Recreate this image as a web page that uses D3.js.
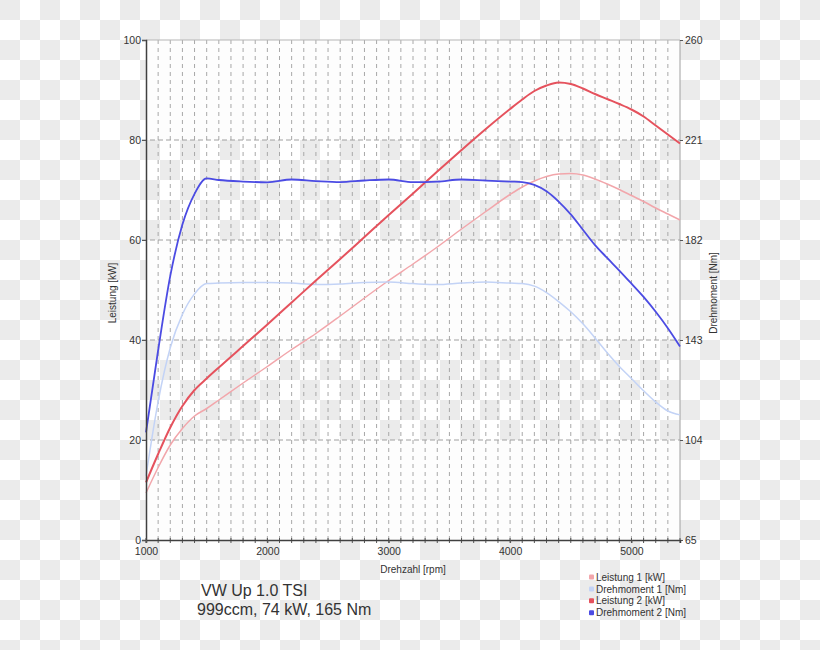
<!DOCTYPE html>
<html>
<head>
<meta charset="utf-8">
<script src="https://cdn.jsdelivr.net/npm/d3@7"></script>
<style>
  html, body { margin: 0; padding: 0; background: #fff; }
  svg { display: block; font-family: "Liberation Sans", Arial, sans-serif; }
</style>
</head>
<body>
<svg id="chart" width="820" height="650"></svg>
<script>
// ---- data ----
const rpm = [1000, 1100, 1200, 1300, 1400, 1500, 1600, 1800, 2000, 2200, 2400, 2600, 2800, 3000, 3200, 3400, 3600, 3800, 4000, 4100, 4200, 4300, 4400, 4500, 4600, 4700, 4800, 4900, 5000, 5100, 5200, 5300, 5400];
const leistung1 = [9.4, 14.5, 19.0, 22.3, 24.8, 26.3, 28.0, 31.4, 34.7, 38.1, 41.3, 44.8, 48.4, 51.9, 55.2, 58.6, 62.2, 65.7, 69.1, 70.6, 71.8, 72.7, 73.2, 73.3, 73.0, 72.2, 71.2, 70.1, 68.9, 67.7, 66.4, 65.2, 64.0];
const drehmoment1 = [90, 119, 140, 153, 161, 165, 165.2, 165.4, 165.4, 165.2, 164.6, 164.8, 165.4, 165.6, 165.0, 164.6, 165.2, 165.6, 165.2, 165.0, 164.0, 161.5, 158.0, 154.0, 149.3, 143.8, 138.0, 132.7, 128.0, 123.2, 118.8, 115.3, 113.8];
const leistung2 = [11.5, 17.2, 22.5, 26.8, 30.0, 32.3, 34.5, 38.8, 43.1, 47.5, 51.9, 56.2, 60.6, 65.0, 69.3, 73.7, 78.0, 82.2, 86.2, 88.1, 89.8, 90.9, 91.5, 91.2, 90.3, 89.2, 88.2, 87.2, 86.1, 84.7, 82.9, 81.1, 79.3];
const drehmoment2 = [107, 139, 168, 188, 200, 206, 205.4, 204.8, 204.5, 205.6, 205.0, 204.6, 205.2, 205.6, 204.6, 204.8, 205.6, 205.2, 204.8, 204.6, 203.5, 201.0, 197.0, 192.0, 186.0, 180.0, 175.0, 170.1, 165.0, 159.8, 154.0, 147.6, 140.5];

const xTicks = [1000, 2000, 3000, 4000, 5000];
const leftTicks = [0, 20, 40, 60, 80, 100];
const rightTicks = [65, 104, 143, 182, 221, 260];
const seriesNames = ["Leistung 1 [kW]", "Drehmoment 1 [Nm]", "Leistung 2 [kW]", "Drehmoment 2 [Nm]"];
const seriesColors = ["#f2a6ab", "#c3d3f6", "#e5525d", "#4b4be3"];
const titleLines = ["VW Up 1.0 TSI", "999ccm, 74 kW, 165 Nm"];

// ---- layout ----
const svg = d3.select("#chart");
const W = 820, H = 650;
const pL = 146, pR = 680, pT = 40, pB = 540;

const x = d3.scaleLinear().domain([1000, 5400]).range([pL, pR]);
const yL = d3.scaleLinear().domain([0, 100]).range([pB, pT]);
const yR = d3.scaleLinear().domain([65, 260]).range([pB, pT]);

// checkerboard background
const defs = svg.append("defs");
const pat = defs.append("pattern").attr("id", "checker")
  .attr("patternUnits", "userSpaceOnUse").attr("width", 40).attr("height", 40);
pat.append("rect").attr("width", 40).attr("height", 40).attr("fill", "#ffffff");
pat.append("rect").attr("x", 0).attr("y", 0).attr("width", 20).attr("height", 20).attr("fill", "#ebebeb");
pat.append("rect").attr("x", 20).attr("y", 20).attr("width", 20).attr("height", 20).attr("fill", "#ebebeb");
svg.append("rect").attr("width", W).attr("height", H).attr("fill", "url(#checker)");

// white bands inside plot
const whiteBands = [[0, 20], [40, 60], [80, 100]];
svg.append("g").selectAll("rect").data(whiteBands).join("rect")
  .attr("x", pL).attr("width", pR - pL)
  .attr("y", d => yL(d[1])).attr("height", d => yL(d[0]) - yL(d[1]))
  .attr("fill", "#fdfdfd");

// vertical dashed grid every 100 rpm
const minor = d3.range(1100, 5400, 100);
svg.append("g").selectAll("line").data(minor).join("line")
  .attr("x1", d => x(d)).attr("x2", d => x(d))
  .attr("y1", pT).attr("y2", pB)
  .attr("stroke", "#a8a8a8").attr("stroke-width", 1)
  .attr("stroke-dasharray", "4,4");

// horizontal dashed grid
svg.append("g").selectAll("line").data([20, 40, 60, 80]).join("line")
  .attr("x1", pL - 4).attr("x2", pR)
  .attr("y1", d => yL(d)).attr("y2", d => yL(d))
  .attr("stroke", "#a0a0a0").attr("stroke-width", 1)
  .attr("stroke-dasharray", "5,3");

// frame: top and right
svg.append("line").attr("x1", pL).attr("x2", pR).attr("y1", pT).attr("y2", pT)
  .attr("stroke", "#b5b5b5").attr("stroke-width", 1);
svg.append("line").attr("x1", pR).attr("x2", pR).attr("y1", pT).attr("y2", pB)
  .attr("stroke", "#a0a0a0").attr("stroke-width", 1);

// lines
const data = rpm.map((r, i) => ({ r, l1: leistung1[i], d1: drehmoment1[i], l2: leistung2[i], d2: drehmoment2[i] }));
const mk = (acc, sc) => d3.line().x(d => x(d.r)).y(d => sc(acc(d))).curve(d3.curveMonotoneX);
const lineSpecs = [
  { f: mk(d => d.l1, yL), c: seriesColors[0], w: 1.5 },
  { f: mk(d => d.d1, yR), c: seriesColors[1], w: 1.5 },
  { f: mk(d => d.l2, yL), c: seriesColors[2], w: 2 },
  { f: mk(d => d.d2, yR), c: seriesColors[3], w: 1.8 }
];
svg.append("g").selectAll("path").data(lineSpecs).join("path")
  .attr("d", s => s.f(data)).attr("fill", "none")
  .attr("stroke", s => s.c).attr("stroke-width", s => s.w)
  .attr("stroke-linejoin", "round");

// left axis
const gl = svg.append("g").attr("transform", `translate(${pL},0)`)
  .call(d3.axisLeft(yL).tickValues(leftTicks).tickSize(4).tickPadding(1));
gl.select(".domain").attr("stroke", "#404040").attr("stroke-width", 1.5);
gl.selectAll(".tick line").attr("stroke", "#555");
gl.selectAll(".tick text").attr("font-size", "10.5px").attr("fill", "#333")
  .attr("font-family", "Liberation Sans, Arial, sans-serif");

// right axis
const gr = svg.append("g").attr("transform", `translate(${pR},0)`)
  .call(d3.axisRight(yR).tickValues(rightTicks).tickSize(3).tickPadding(2));
gr.select(".domain").attr("stroke", "none");
gr.selectAll(".tick line").attr("stroke", "#555");
gr.selectAll(".tick text").attr("font-size", "10.5px").attr("fill", "#333")
  .attr("font-family", "Liberation Sans, Arial, sans-serif");

// bottom axis with minor ticks
const gbMinor = svg.append("g").attr("transform", `translate(0,${pB})`);
gbMinor.selectAll("line").data(d3.range(1000, 5401, 100)).join("line")
  .attr("x1", d => x(d)).attr("x2", d => x(d)).attr("y1", -2).attr("y2", 3)
  .attr("stroke", "#555").attr("stroke-width", 1);
const gb = svg.append("g").attr("transform", `translate(0,${pB})`)
  .call(d3.axisBottom(x).tickValues(xTicks).tickFormat(d3.format("d")).tickSize(3).tickPadding(5));
gb.select(".domain").attr("stroke", "#404040").attr("stroke-width", 1.5);
gb.selectAll(".tick line").attr("stroke", "#555");
gb.selectAll(".tick text").attr("font-size", "10.5px").attr("fill", "#333")
  .attr("font-family", "Liberation Sans, Arial, sans-serif");

// axis titles
svg.append("text").attr("x", (pL + pR) / 2).attr("y", 573)
  .attr("text-anchor", "middle").attr("font-size", "10px").attr("fill", "#333")
  .text("Drehzahl [rpm]");
svg.append("text").attr("transform", "translate(116,293) rotate(-90)")
  .attr("text-anchor", "middle").attr("font-size", "10px").attr("fill", "#333")
  .text("Leistung [kW]");
svg.append("text").attr("transform", "translate(717,293) rotate(-90)")
  .attr("text-anchor", "middle").attr("font-size", "10px").attr("fill", "#333")
  .text("Drehmoment [Nm]");

// title block
svg.append("text").attr("x", 201).attr("y", 596).attr("font-size", "16px").attr("fill", "#333")
  .text(titleLines[0]);
svg.append("text").attr("x", 197).attr("y", 615).attr("font-size", "16px").attr("fill", "#333")
  .text(titleLines[1]);

// legend
const lg = svg.append("g");
const rows = lg.selectAll("g").data(seriesNames).join("g")
  .attr("transform", (d, i) => `translate(589,${577 + i * 11.9})`);
rows.append("rect").attr("x", 0).attr("y", -2.5).attr("width", 5).attr("height", 5).attr("rx", 1)
  .attr("fill", (d, i) => seriesColors[i]);
rows.append("text").attr("x", 7).attr("y", 3.6).attr("font-size", "10px").attr("fill", "#333")
  .text(d => d);
</script>
</body>
</html>
